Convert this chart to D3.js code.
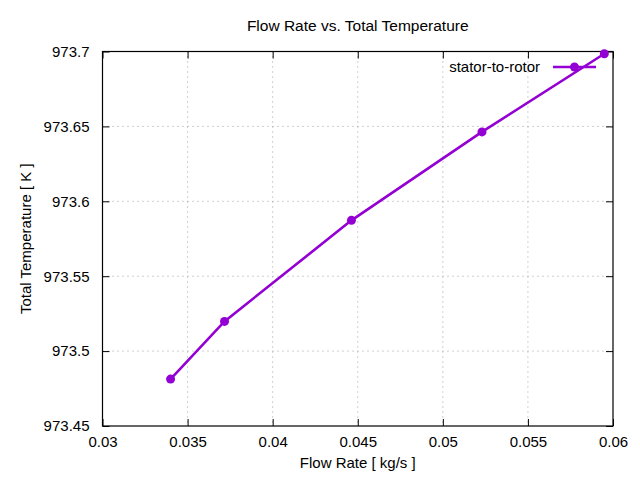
<!DOCTYPE html>
<html>
<head>
<meta charset="utf-8">
<script src="https://cdn.jsdelivr.net/npm/d3@7"></script>
<style>
  body { margin: 0; background: white; }
  text { font-family: "Liberation Sans", Arial, sans-serif; fill: black; }
</style>
</head>
<body>
<div id="graph"></div>
<script>
// values
const flowRate = [0.0340, 0.03717, 0.04463, 0.0523, 0.05949];
const totalTemp = [973.4813, 973.5198, 973.5873, 973.6463, 973.6985];
const xTicks = [0.03, 0.035, 0.04, 0.045, 0.05, 0.055, 0.06];
const yTicks = [973.45, 973.5, 973.55, 973.6, 973.65, 973.7];
const seriesName = "stator-to-rotor";

const width = 640, height = 480;
const plotLeft = 102.5, plotRight = 613, plotTop = 51.5, plotBottom = 426;
const color = "#9400d3";
const fontSize = 15;

const svg = d3.select("#graph").append("svg")
    .attr("width", width).attr("height", height)
    .style("background", "white");

const xScale = d3.scaleLinear().domain([0.03, 0.06]).range([plotLeft, plotRight]);
const yScale = d3.scaleLinear().domain([973.45, 973.7]).range([plotBottom, plotTop]);

// dotted grid
const grid = svg.append("g")
    .attr("stroke", "#a0a0a0").attr("stroke-width", 1)
    .attr("stroke-dasharray", "1,4");
grid.selectAll(".gx").data(xTicks.slice(1, -1)).enter().append("line")
    .attr("x1", d => xScale(d)).attr("x2", d => xScale(d))
    .attr("y1", plotTop).attr("y2", plotBottom);
grid.selectAll(".gy").data(yTicks.slice(1, -1)).enter().append("line")
    .attr("y1", d => yScale(d)).attr("y2", d => yScale(d))
    .attr("x1", plotLeft).attr("x2", plotRight);

// axes, gnuplot style: ticks inward on all four sides
const tick = 7;
const xAxis = d3.axisBottom(xScale).tickValues(xTicks).tickSize(-tick).tickPadding(10)
    .tickFormat(d => String(+d.toFixed(3)));
const yAxis = d3.axisLeft(yScale).tickValues(yTicks).tickSize(-tick).tickPadding(13)
    .tickFormat(d => String(+d.toFixed(2)));

svg.append("g").attr("transform", `translate(0,${plotBottom})`).call(xAxis);
svg.append("g").attr("transform", `translate(${plotLeft},0)`).call(yAxis);
svg.append("g").attr("transform", `translate(0,${plotTop})`)
    .call(d3.axisTop(xScale).tickValues(xTicks).tickSize(-tick).tickFormat(""));
svg.append("g").attr("transform", `translate(${plotRight},0)`)
    .call(d3.axisRight(yScale).tickValues(yTicks).tickSize(-tick).tickFormat(""));

svg.selectAll(".domain").remove();
svg.selectAll(".tick line").attr("stroke", "black").attr("stroke-width", 1);
svg.selectAll(".tick text")
    .style("font-family", '"Liberation Sans", Arial, sans-serif')
    .style("font-size", fontSize + "px").attr("fill", "black");

svg.append("rect")
    .attr("x", plotLeft).attr("y", plotTop)
    .attr("width", plotRight - plotLeft).attr("height", plotBottom - plotTop)
    .attr("fill", "none").attr("stroke", "black").attr("stroke-width", 1.2);

// series
const pts = flowRate.map((x, i) => ({x: x, y: totalTemp[i]}));
const line = d3.line().x(d => xScale(d.x)).y(d => yScale(d.y));

svg.append("path").datum(pts)
    .attr("d", line).attr("fill", "none")
    .attr("stroke", color).attr("stroke-width", 2.6);
svg.append("g").selectAll("circle").data(pts).enter().append("circle")
    .attr("cx", d => xScale(d.x)).attr("cy", d => yScale(d.y))
    .attr("r", 4.5).attr("fill", color);

// legend
const legY = 67;
svg.append("text").attr("x", 540).attr("y", legY).attr("dy", "0.35em")
    .attr("text-anchor", "end").style("font-size", fontSize + "px")
    .text(seriesName);
svg.append("line").attr("x1", 553).attr("x2", 596).attr("y1", legY).attr("y2", legY)
    .attr("stroke", color).attr("stroke-width", 2.6);
svg.append("circle").attr("cx", 574.5).attr("cy", legY).attr("r", 4.5).attr("fill", color);

// titles
svg.append("text").attr("x", (plotLeft + plotRight) / 2).attr("y", 31)
    .attr("text-anchor", "middle").style("font-size", "15.5px")
    .text("Flow Rate vs. Total Temperature");
svg.append("text").attr("x", (plotLeft + plotRight) / 2).attr("y", 468)
    .attr("text-anchor", "middle").style("font-size", fontSize + "px")
    .text("Flow Rate [ kg/s ]");
svg.append("text")
    .attr("transform", `translate(31,${(plotTop + plotBottom) / 2}) rotate(-90)`)
    .attr("text-anchor", "middle").style("font-size", fontSize + "px")
    .text("Total Temperature [ K ]");
</script>
</body>
</html>
